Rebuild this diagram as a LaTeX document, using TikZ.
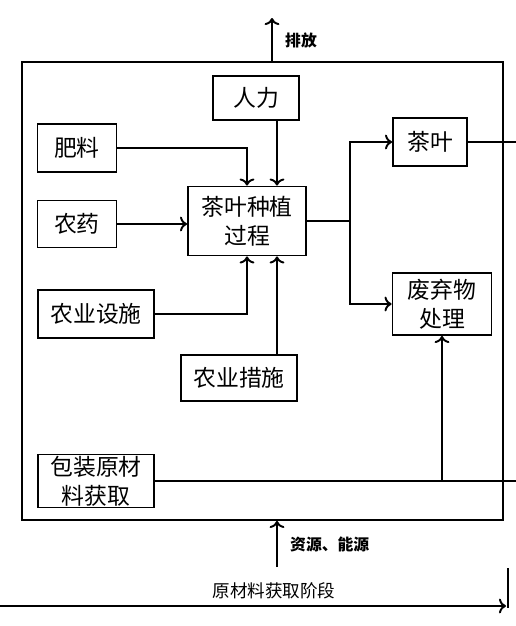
\documentclass[tikz,border=0pt]{standalone}
\usepackage{fontspec}
\newfontfamily\cjk{Noto Sans CJK SC}
\usepackage{tikz}
\usetikzlibrary{arrows.meta, calc}

\tikzset{
	stage/.style={draw, line width=1.1pt, inner sep=0pt, align=center, font=\cjk\fontsize{13}{16.5}\selectfont},
	flow/.style={line width=1.1pt},
	tag/.style={font=\cjk\bfseries\fontsize{9}{11}\selectfont, anchor=west},
}

\begin{document}
\begin{tikzpicture}[x=0.02cm, y=-0.02cm]
			\useasboundingbox (0,0) rectangle (516,626);

			% frame of the stage
			\node[draw, line width=1.1pt, minimum width=9.62cm, minimum height=9.16cm] (frame) at (262.5,291) {};

			% inputs
			\node[stage, minimum width=1.72cm, minimum height=0.88cm] (rl) at (256,98) {人力};
			\node[stage, minimum width=1.58cm, minimum height=0.96cm] (fl) at (77,148) {肥料};
			\node[stage, minimum width=1.58cm, minimum height=0.94cm] (ny) at (77,224) {农药};
			\node[stage, minimum width=2.32cm, minimum height=0.96cm] (ss) at (96,314) {农业设施};
			\node[stage, minimum width=2.32cm, minimum height=0.92cm] (cs) at (239,378) {农业措施};
			\node[stage, minimum width=2.32cm, minimum height=1.06cm] (bz) at (96,481) {包装原材\\料获取};

			% process and outputs
			\node[stage, minimum width=2.36cm, minimum height=1.38cm] (gc) at (247,221) {茶叶种植\\过程};
			\node[stage, minimum width=1.48cm, minimum height=0.96cm] (cy) at (430,142) {茶叶};
			\node[stage, minimum width=1.98cm, minimum height=1.24cm] (fq) at (442,304) {废弃物\\处理};

			\coordinate (br) at (350,221);
			\coordinate (rim) at (516,0);
			\coordinate (pf) at (272,18);
			\coordinate (zy) at (277,567);
			\coordinate (st) at (0,606);
			\coordinate (en) at (506,606);
			\coordinate (tk1) at (508,568);
			\coordinate (tk2) at (508,608);

			\draw[flow, ->] (fl.east) -| (gc.north);
			\draw[flow, ->] ([xshift=0.42cm]rl.south) -- ([xshift=0.6cm]gc.north);
			\draw[flow, ->] (ny.east) -- (ny.east -| gc.west);
			\draw[flow, ->] (ss.east) -| (gc.south);
			\draw[flow, ->] ([xshift=0.76cm]cs.north) -- ([xshift=0.6cm]gc.south);

			\draw[flow] (gc.east |- br) -- (br);
			\draw[flow, ->] (br) |- (cy.west);
			\draw[flow, ->] (br) |- (fq.west);
			\draw[flow] (cy.east) -- (cy.east -| rim);
			\draw[flow] (bz.east) -- (bz.east -| rim);
			\draw[flow, ->] (bz.east -| fq.south) -- (fq.south);

			% emissions and resources
			\draw[flow, ->] (pf |- frame.north) -- (pf);
			\node[tag] (pfl) at (279,40) {排放};
			\draw[flow, ->] (zy) -- (zy |- frame.south);
			\node[tag] (zyl) at (284,544) {资源、能源};

			% stage axis
			\draw[flow, ->] (st) -- (en);
			\draw[flow] (tk1) -- (tk2);
			\node[font=\cjk\fontsize{10}{12}\selectfont] (jd) at (274,591) {原材料获取阶段};
		\end{tikzpicture}
\end{document}
